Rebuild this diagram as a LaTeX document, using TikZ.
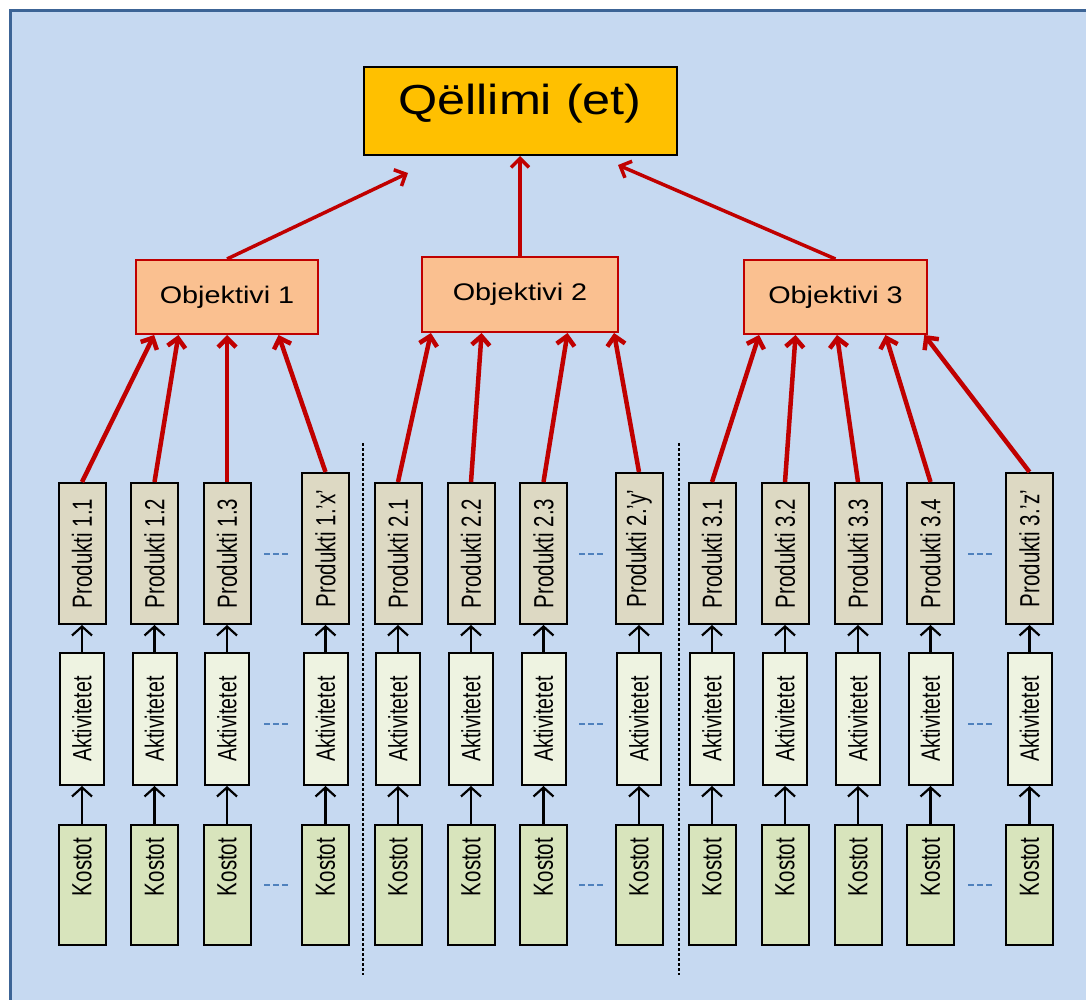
\documentclass[tikz,border=0pt]{standalone}
\usepackage{fontspec}
\setmainfont{Liberation Sans}
\usepackage{tikz}
\usetikzlibrary{arrows.meta,calc}

\definecolor{bgblue}{HTML}{C6D9F1}
\definecolor{frameblue}{HTML}{3C6496}
\definecolor{goalgold}{HTML}{FFC000}
\definecolor{objpeach}{HTML}{FAC090}
\definecolor{darkred}{HTML}{C00000}
\definecolor{prodtan}{HTML}{DDD9C3}
\definecolor{actcream}{HTML}{EEF3E1}
\definecolor{costgreen}{HTML}{D8E4BC}
\definecolor{dashblue}{HTML}{4F81BD}

\newcommand{\vlabel}[1]{\rotatebox{90}{\scalebox{1}[1.35]{#1}}}
\newcommand{\hlabel}[1]{\scalebox{1.2}[1]{#1}}

\tikzset{
  box/.style = {draw=black, line width=2pt, inner sep=0pt},
  prod/.style = {box, fill=prodtan, minimum width=47pt, minimum height=141pt, font=\fontsize{20.5}{24}\selectfont},
  act/.style = {box, fill=actcream, minimum width=44pt, minimum height=132pt, font=\fontsize{19.6}{24}\selectfont},
  cost/.style = {box, fill=costgreen, minimum width=47pt, minimum height=120pt, font=\fontsize{20.5}{24}\selectfont},
  objbox/.style = {draw=darkred, line width=2pt, fill=objpeach, inner sep=0pt, minimum height=74pt, font=\fontsize{24}{28}\selectfont},
  goalbox/.style = {draw=black, line width=2pt, fill=goalgold, inner sep=0pt, minimum width=313pt, minimum height=88pt,
                    text height=30pt, text depth=22pt, font=\fontsize{42}{48}\selectfont},
  redup/.style = {draw=darkred, line width=4.5pt, -{Straight Barb[length=9pt,width=18pt]}},
  redtop/.style = {draw=darkred, line width=3.5pt, -{Straight Barb[length=9pt,width=18pt]}},
  blkup/.style = {draw=black, line width=2.2pt, -{Straight Barb[length=9pt,width=20pt]}},
  gap/.style = {draw=dashblue, line width=2pt, dash pattern=on 6pt off 3pt},
  divider/.style = {draw=black, line width=2pt, dash pattern=on 3pt off 2pt}
}

\begin{document}
\begin{tikzpicture}[x=1pt, y=-1pt]
  \fill[white] (0,0) rectangle (1086,1000);
  \useasboundingbox (0,0) rectangle (1086,1000);
  \fill[bgblue] (10,11) rectangle (1086,1000);
  \draw[frameblue, line width=3pt] (10.5,1000) -- (10.5,11) -- (1086,11);

  % goal and objectives
  \node[goalbox] (goal) at (520,111) {\hlabel{Qëllimi (et)}};
  \node[objbox, minimum width=182pt] (o1) at (227,297) {\hlabel{Objektivi 1}};
  \node[objbox, minimum width=196pt, minimum height=75pt] (o2) at (520,294.5) {\hlabel{Objektivi 2}};
  \node[objbox, minimum width=183pt] (o3) at (835.5,297) {\hlabel{Objektivi 3}};
  \coordinate (g1) at (408,173);
  \coordinate (g3) at (618,165);
  \draw[redtop] (o1.north) -- (g1);
  \draw[redtop] (o2.north) -- (goal.south);
  \draw[redtop] (o3.north) -- (g3);

  % products
  \foreach \x/\n/\t in {82/11/1.1, 154.5/12/1.2, 227/13/1.3, 398/21/2.1, 471/22/2.2, 543.5/23/2.3,
                        712/31/3.1, 785/32/3.2, 858/33/3.3, 930.5/34/3.4}
    \node[prod] (p\n) at (\x,553.5) {\vlabel{Produkti \t}};
  \foreach \x/\n/\t in {325.5/1x/1.'x', 639/2y/2.'y', 1029.5/3z/3.'z'}
    \node[prod, minimum height=151pt] (p\n) at (\x,548.5) {\vlabel{Produkti \t}};

  % activities and costs under each product
  \foreach \x/\n in {82/11, 154.5/12, 227/13, 325.5/1x, 398/21, 471/22, 543.5/23, 639/2y,
                     712/31, 785/32, 858/33, 930.5/34, 1029.5/3z} {
    \node[act] (a\n) at (\x,719) {\vlabel{Aktivitetet}};
    \node[cost] (k\n) at (\x,885) {\vlabel{\hspace{36pt}Kostot}};
    \draw[blkup] (k\n) -- (a\n);
    \draw[blkup] (a\n) -- (p\n);
  }

  % products feed the objectives
  \foreach \n/\f in {11/.104, 12/.236, 13/.5, 1x/.78}
    \draw[redup] (p\n.north) -- ($(o1.south west)!\f!(o1.south east)$);
  \foreach \n/\f in {21/.05, 22/.306, 23/.74, 2y/.975}
    \draw[redup] (p\n.north) -- ($(o2.south west)!\f!(o2.south east)$);
  \foreach \n/\f in {31/.087, 32/.284, 33/.508, 34/.77, 3z/.98}
    \draw[redup] (p\n.north) -- ($(o3.south west)!\f!(o3.south east)$);

  % "more" marks between the columns
  \foreach \l/\r in {13/1x, 23/2y, 34/3z} {
    \draw[gap] ($(p\l.east)!.5!(p\r.west |- p\l.east)$) +(-12,0) -- +(12,0);
    \draw[gap] ($(a\l.east)!.5!(a\r.west)$) +(-12,5) -- +(14,5);
    \draw[gap] ($(k\l.east)!.5!(k\r.west)$) +(-12,0) -- +(12,0);
  }

  % group dividers
  \draw[divider] (363,443) -- (363,975);
  \draw[divider] (679,443) -- (679,975);
\end{tikzpicture}
\end{document}
